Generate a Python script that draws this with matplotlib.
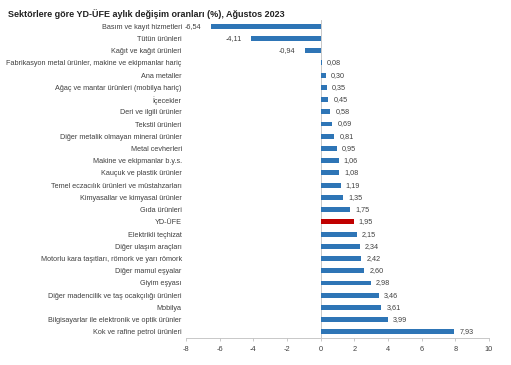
import matplotlib.pyplot as plt

plt.rcParams['font.family'] = ['Liberation Sans', 'DejaVu Sans']

categories = [
    "Basım ve kayıt hizmetleri",
    "Tütün ürünleri",
    "Kağıt ve kağıt ürünleri",
    "Fabrikasyon metal ürünler, makine ve ekipmanlar hariç",
    "Ana metaller",
    "Ağaç ve mantar ürünleri (mobilya hariç)",
    "İçecekler",
    "Deri ve ilgili ürünler",
    "Tekstil ürünleri",
    "Diğer metalik olmayan mineral ürünler",
    "Metal cevherleri",
    "Makine ve ekipmanlar b.y.s.",
    "Kauçuk ve plastik ürünler",
    "Temel eczacılık ürünleri ve müstahzarları",
    "Kimyasallar ve kimyasal ürünler",
    "Gıda ürünleri",
    "YD-ÜFE",
    "Elektrikli teçhizat",
    "Diğer ulaşım araçları",
    "Motorlu kara taşıtları, römork ve yarı römork",
    "Diğer mamul eşyalar",
    "Giyim eşyası",
    "Diğer madencilik ve taş ocakçılığı ürünleri",
    "Mobilya",
    "Bilgisayarlar ile elektronik ve optik ürünler",
    "Kok ve rafine petrol ürünleri",
]
values = [-6.54, -4.11, -0.94, 0.08, 0.30, 0.35, 0.45, 0.58, 0.69, 0.81,
          0.95, 1.06, 1.08, 1.19, 1.35, 1.75, 1.95, 2.15, 2.34, 2.42,
          2.60, 2.98, 3.46, 3.61, 3.99, 7.93]
highlight = "YD-ÜFE"
x_ticks = [-8, -6, -4, -2, 0, 2, 4, 6, 8, 10]

blue = "#2E75B6"
red = "#C00000"

fig = plt.figure(figsize=(5.11, 3.65), dpi=100)
ax = fig.add_axes([0.364, 0.074, 0.593, 0.871])

y = list(range(len(categories)))
colors = [red if c == highlight else blue for c in categories]
ax.barh(y, values, height=0.4, color=colors, zorder=2)

for yi, v in zip(y, values):
    txt = f"{v:.2f}".replace(".", ",")
    if v < 0:
        ax.text(v - 0.55, yi, txt, ha="right", va="center", fontsize=5.2, color="#404040")
    else:
        ax.text(v + 0.3, yi, txt, ha="left", va="center", fontsize=5.2, color="#404040")

ax.set_ylim(len(categories) - 0.5, -0.5)
ax.set_xlim(-8, 10)
ax.set_yticks(y)
ax.set_yticklabels(categories, fontsize=5.2, color="#404040")
ax.tick_params(axis="y", length=0, pad=3)
ax.set_xticks(x_ticks)
ax.set_xticklabels([str(t) for t in x_ticks], fontsize=5.3, color="#404040")
ax.tick_params(axis="x", length=2.5, color="#bfbfbf", width=0.6, pad=3)

for s in ["top", "right", "left"]:
    ax.spines[s].set_visible(False)
ax.spines["bottom"].set_color("#bfbfbf")
ax.spines["bottom"].set_linewidth(0.6)
ax.axvline(0, color="#bfbfbf", linewidth=0.6, zorder=1)

fig.text(0.016, 0.975, "Sektörlere göre YD-ÜFE aylık değişim oranları (%), Ağustos 2023",
         fontsize=6.5, fontweight="bold", ha="left", va="top", color="#222222")

fig.savefig("out.png", dpi=100)
